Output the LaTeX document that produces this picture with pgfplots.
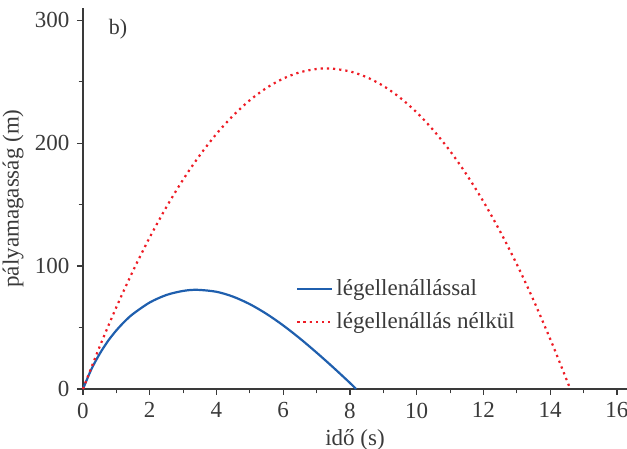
\documentclass[border=0pt]{standalone}
\usepackage{pgfplots}
\pgfplotsset{compat=1.18}
\usepackage{fontspec}
\setmainfont{Liberation Serif}
\usetikzlibrary{calc}

\definecolor{axisgray}{HTML}{3A3A3A}
\definecolor{dragblue}{HTML}{1F5FAE}
\definecolor{noairred}{HTML}{EE1C25}

% trajectory with air drag
\pgfplotstableread{
t h
0 0
0.25 16.0
0.5 28.6
0.75 39.1
1 47.7
1.25 55.0
1.5 61.1
2 70.4
2.5 76.5
3 79.8
3.42 80.7
4 79.1
4.5 75.1
5 69.0
5.5 61.1
6 51.7
6.5 41.1
7 29.6
7.5 17.5
8 4.9
8.18 0
}\withdrag

% trajectory without air drag
\pgfplotstableread{
t h
0 0
0.5 34.5
1 66.6
1.5 96.2
2 123.4
2.5 148.1
3 170.4
3.5 190.2
4 207.6
4.5 222.5
5 235.0
5.5 245.0
6 252.6
6.5 257.7
7 260.4
7.3 260.8
7.5 260.6
8 258.4
8.5 253.7
9 246.6
9.5 237.0
10 225.0
10.5 210.5
11 193.6
11.5 174.2
12 152.4
12.5 128.1
13 101.4
13.5 72.2
14 40.6
14.25 23.9
14.6 0
}\nodrag

\begin{document}
\begin{tikzpicture}
\fontsize{11}{13}\selectfont
\begin{axis}[
  scale only axis,
  width=272pt, height=190.5pt,
  xmin=0, xmax=16.3, ymin=0, ymax=310,
  axis x line=bottom, axis y line=left,
  axis line style={axisgray, line width=0.7pt, -},
  tick align=outside,
  xtick={0,2,...,16}, ytick={0,100,200,300},
  minor tick num=1,
  major tick length=3pt, minor tick length=2.2pt,
  every tick/.style={axisgray, line width=0.6pt},
  every minor tick/.style={axisgray, line width=0.6pt},
  ticklabel style={text=axisgray, font=\fontsize{11.5}{13}\selectfont},
  /pgf/number format/assume math mode=true,
  xlabel={idő (s)}, ylabel={pályamagasság (m)},
  label style={text=axisgray, font=\fontsize{11.5}{13}\selectfont},
  xlabel style={yshift=2pt},
  ylabel style={yshift=-2pt},
  legend style={draw=none, fill=none, at={(0.38,0.31)}, anchor=north west,
    font=\fontsize{11.5}{13}\selectfont, text=axisgray, row sep=3pt},
  legend cell align=left,
  clip=false,
]
\addplot[dragblue, line width=1.1pt, smooth] table[x=t, y=h] {\withdrag};
\addlegendentry{légellenállással}
\addplot[noairred, line width=1.1pt, dotted, smooth] table[x=t, y=h] {\nodrag};
\addlegendentry{légellenállás nélkül}
\node[text=axisgray, anchor=center] at (axis cs:1.05,293) {b)};
\end{axis}
\pgfresetboundingbox
\useasboundingbox ($(current axis.south west)+(-41.5pt,-30pt)$) rectangle ($(current axis.north east)+(0pt,4pt)$);
\end{tikzpicture}
\end{document}
